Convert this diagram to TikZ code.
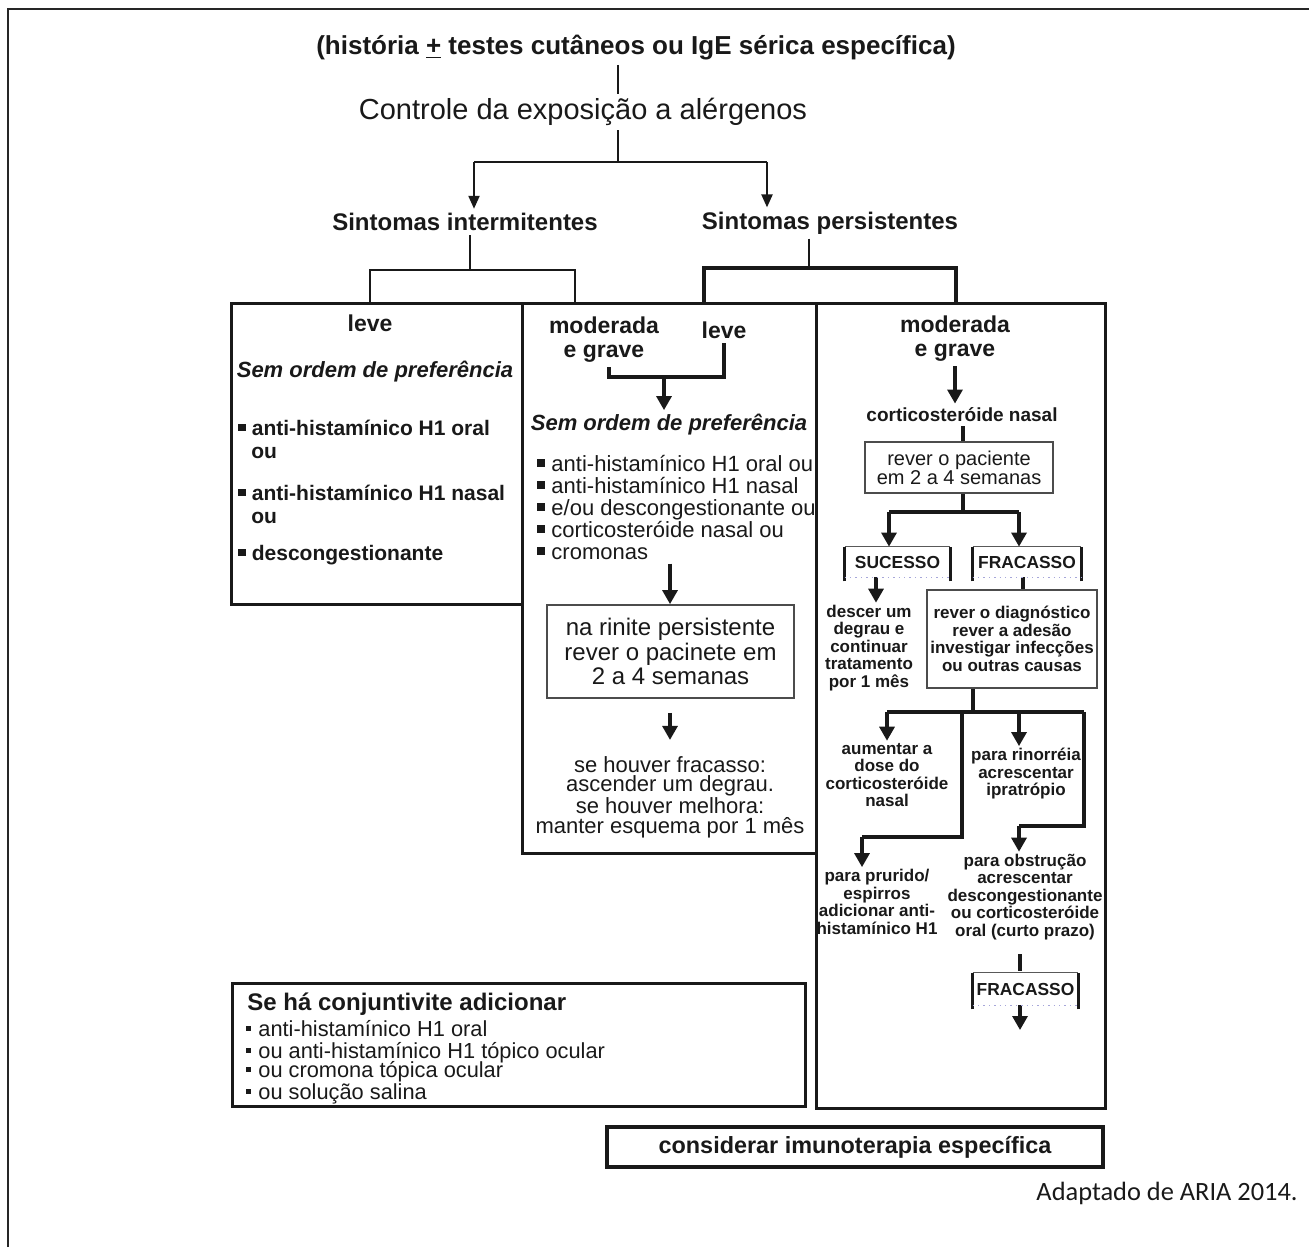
\documentclass[tikz,border=0pt]{standalone}
\usepackage{fontspec}
\setmainfont{Liberation Sans}
\newfontfamily\carlito{Carlito}
\usetikzlibrary{arrows.meta}
\newcommand{\fsz}[2]{\fontsize{#1}{#2}\selectfont}
\newcommand{\sqb}{\rule[0.2em]{0.34em}{0.34em}\hspace{0.3em}}
\newcommand{\dotb}{\rule[0.25em]{0.2em}{0.2em}\hspace{0.35em}}
\begin{document}
\begin{tikzpicture}[x=0.5pt,y=-0.5pt,
  every node/.style={inner sep=2pt, align=center, text=black!90},
  conn/.style={line width=1.1pt, draw=black!90},
  conn2/.style={line width=1.6pt, draw=black!90},
  heavy/.style={line width=1.6pt, draw=black!90},
  arr/.style={conn, -{Triangle[length=6.5pt,width=5.5pt]}},
  arr2/.style={conn2, -{Triangle[length=7pt,width=7.5pt]}},
  bigbox/.style={draw=black!90, line width=1.6pt, anchor=north west, inner sep=0pt},
  thinbox/.style={draw=black!70, line width=0.9pt},
  hd/.style={font=\fsz{11.5}{12}\bfseries},
  small/.style={font=\fsz{8.5}{8.75}\bfseries, inner sep=1pt},
  litem/.style={anchor=base west, inner sep=0pt, font=\fsz{10.5}{12}\bfseries},
  mitem/.style={anchor=base west, inner sep=0pt, font=\fsz{11}{12}},
  citem/.style={anchor=base west, inner sep=0pt, font=\fsz{10.9}{12}},
  brk/.style={minimum height=15pt, inner sep=0pt, font=\fsz{8.7}{10}\bfseries},
]
\useasboundingbox (0,0) rectangle (1309,1247);
\draw[line width=1.4pt, black!85] (8,1247) -- (8,9) -- (1309,9);

% ---------- top ----------
\node[font=\fsz{13}{15}\bfseries] (title) at (636,48) {(história \underline{+} testes cutâneos ou IgE sérica específica)};
\node[font=\fsz{14.5}{17}] (ctrl) at (583,112) {Controle da exposição a alérgenos};
\node[font=\fsz{12}{14}\bfseries] (si) at (465,222) {Sintomas intermitentes};
\node[font=\fsz{12}{14}\bfseries] (sp) at (830,223) {Sintomas persistentes};
\coordinate (j0) at (618,162);
\coordinate (jL) at (474,162);
\coordinate (jR) at (767,162);
\draw[conn] (title.south -| j0) -- (ctrl.north -| j0);
\draw[conn] (ctrl.south -| j0) -- (j0);
\draw[conn] (jL) -- (jR);
\draw[arr] (jL) -- (jL |- si.north);
\draw[arr] (jR) -- (jR |- sp.north);

% ---------- big boxes ----------
\node[bigbox, minimum width=145.5pt, minimum height=150.5pt] (boxL) at (230,302) {};
\node[bigbox, minimum width=147pt, minimum height=275pt] (boxM) at (521,302) {};
\node[bigbox, minimum width=144.5pt, minimum height=402.5pt] (boxR) at (815,302) {};

% brackets
\coordinate (bi) at (470,270);
\coordinate (biL) at (370,270);
\coordinate (biR) at (575,270);
\draw[conn] (si.south -| bi) -- (bi);
\draw[conn] (boxL.north -| biL) -- (biL) -- (biR) -- (boxM.north -| biR);
\coordinate (bp) at (809,268);
\coordinate (bpL) at (704,268);
\coordinate (bpR) at (956,268);
\draw[conn] (sp.south -| bp) -- (bp);
\draw[heavy] (boxM.north -| bpL) -- (bpL) -- (bpR) -- (boxR.north -| bpR);

% ---------- left column ----------
\node[hd] (lv1) at (370,323) {leve};
\node[font=\fsz{11}{13}\bfseries\itshape] (sem1) at (375,372) {Sem ordem de preferência};
\node[litem] (l1) at (238,435) {\sqb anti-histamínico H1 oral};
\node[litem] (l2) at (251,458) {ou};
\node[litem] (l3) at (238,500) {\sqb anti-histamínico H1 nasal};
\node[litem] (l4) at (251,523) {ou};
\node[litem] (l5) at (238,560) {\sqb descongestionante};

% ---------- middle column ----------
\node[hd] (mg1) at (604,340) {moderada\\e grave};
\node[hd] (lv2) at (724,330) {leve};
\coordinate (mA) at (609,377);
\coordinate (mB) at (724,377);
\coordinate (mC) at (664,377);
\draw[conn2] (mg1.south -| mA) -- (mA) -- (mB) -- (lv2.south -| mB);
\node[font=\fsz{11}{13}\bfseries\itshape] (sem2) at (669,425) {Sem ordem de preferência};
\draw[arr2] (mC) -- (mC |- sem2.north);
\node[mitem] (m1) at (537,471) {\sqb anti-histamínico H1 oral ou};
\node[mitem] (m2) at (537,493) {\sqb anti-histamínico H1 nasal};
\node[mitem] (m3) at (537,515) {\sqb e/ou descongestionante ou};
\node[mitem] (m4) at (537,537) {\sqb corticosteróide nasal ou};
\node[mitem] (m5) at (537,559) {\sqb cromonas};
\node[thinbox, minimum width=123.5pt, minimum height=46.5pt, inner sep=0pt, font=\fsz{12}{12.2}] (rin) at (670.5,651.5) {na rinite persistente\\rever o pacinete em\\2 a 4 semanas};
\coordinate (mx) at (670,0);
\draw[arr2, shorten <=2pt] (m5.south -| mx) -- (rin.north -| mx);
\node[font=\fsz{11}{9.6}] (fail) at (670,797) {se houver fracasso:\\ascender um degrau.\\se houver melhora:\\manter esquema por 1 mês};
\draw[arr2, shorten <=7pt, shorten >=6pt] (rin.south -| mx) -- (fail.north -| mx);

% ---------- right column ----------
\node[hd] (mg2) at (955,339) {moderada\\e grave};
\node[font=\fsz{9.5}{11}\bfseries] (cn) at (962,415) {corticosteróide nasal};
\draw[arr2] (mg2.south) -- (mg2.south |- cn.north);
\node[thinbox, minimum width=94pt, minimum height=25.5pt, inner sep=0pt, font=\fsz{10}{9.5}] (rev) at (959,467.5) {rever o paciente\\em 2 a 4 semanas};
\coordinate (rA) at (963,512);
\coordinate (rL) at (889,512);
\coordinate (rRt) at (1019,512);
\draw[conn2] (cn.south -| rA) -- (rev.north -| rA);
\draw[conn2] (rev.south -| rA) -- (rA);
\draw[conn2] (rL) -- (rRt);
\node[brk, minimum width=52.5pt] (suc) at (897.5,562) {SUCESSO};
\node[brk, minimum width=54pt] (fra) at (1027,562) {FRACASSO};
\draw[arr2] (rL) -- (rL |- suc.north);
\draw[arr2] (rRt) -- (rRt |- fra.north);
\node[small] (desc) at (869,648) {descer um\\degrau e\\continuar\\tratamento\\por 1 mês};
\coordinate (sx) at (876,0);
\draw[arr2] (suc.south -| sx) -- (desc.north -| sx);
\node[thinbox, minimum width=85pt, minimum height=49pt, inner sep=0pt, font=\fsz{8.5}{8.75}\bfseries] (diag) at (1012,639) {rever o diagnóstico\\rever a adesão\\investigar infecções\\ou outras causas};
\coordinate (fx) at (1023,0);
\draw[conn2] (fra.south -| fx) -- (diag.north -| fx);

\coordinate (dA) at (973,712);
\coordinate (dL) at (887,712);
\coordinate (dR) at (1084,712);
\coordinate (dM) at (962,712);
\coordinate (dR2) at (1019,712);
\draw[conn2] (diag.south -| dA) -- (dA);
\draw[conn2] (dL) -- (dR);
\node[small] (aum) at (887,775) {aumentar a\\dose do\\corticosteróide\\nasal};
\node[small] (rino) at (1026,774) {para rinorréia\\acrescentar\\ipratrópio};
\draw[arr2] (dL) -- (dL |- aum.north);
\draw[arr2] (dR2) -- (dR2 |- rino.north);
\node[small] (prur) at (877,902) {para prurido/\\espirros\\adicionar anti-\\histamínico H1};
\node[small] (obst) at (1025,897) {para obstrução\\acrescentar\\descongestionante\\ou corticosteróide\\oral (curto prazo)};
\coordinate (pM) at (962,837);
\coordinate (pL) at (862,837);
\draw[conn2] (dM) -- (pM) -- (pL);
\draw[arr2] (pL) -- (pL |- prur.north);
\coordinate (oR) at (1084,826);
\coordinate (oL) at (1019,826);
\draw[conn2] (dR) -- (oR) -- (oL);
\draw[arr2] (oL) -- (oL |- obst.north);
\node[brk, minimum width=52.5pt, minimum height=16pt] (fra2) at (1025.5,989) {FRACASSO};
\coordinate (ox) at (1020,0);
\coordinate (fEnd) at (1020,1030);
\draw[conn2, shorten <=6pt, shorten >=1pt] (obst.south -| ox) -- (fra2.north -| ox);
\draw[arr2] (fra2.south -| ox) -- (fEnd);

% bracket boxes
\foreach \n in {suc,fra,fra2}{
  \draw[black!65, line width=0.8pt] (\n.north west) -- (\n.north east);
  \draw[black!90, line width=1.5pt] ([yshift=-2pt]\n.south west) -- (\n.north west);
  \draw[black!90, line width=1.5pt] ([yshift=-2pt]\n.south east) -- (\n.north east);
  \draw[blue!40!gray!50, dotted, line width=0.7pt] (\n.south west) -- (\n.south east);
}

% ---------- conjunctivitis ----------
\node[bigbox, minimum width=286.5pt, minimum height=61.5pt] (conj) at (231,982) {};
\node[anchor=base west, inner sep=0pt, font=\fsz{12}{14}\bfseries] (cj0) at (247,1010) {Se há conjuntivite adicionar};
\node[citem] (cj1) at (246,1036) {\dotb anti-histamínico H1 oral};
\node[citem] (cj2) at (246,1058) {\dotb ou anti-histamínico H1 tópico ocular};
\node[citem] (cj3) at (246,1077) {\dotb ou cromona tópica ocular};
\node[citem] (cj4) at (246,1099) {\dotb ou solução salina};

% ---------- immunotherapy ----------
\node[draw=black!90, line width=1.6pt, minimum width=248pt, minimum height=20pt, inner sep=0pt, font=\fsz{11.7}{14}\bfseries] (imu) at (855,1147) {considerar imunoterapia específica};

\node[anchor=east, inner sep=0pt, font=\carlito\fsz{13.2}{15}] (src) at (1298,1193) {Adaptado de ARIA 2014.};
\end{tikzpicture}
\end{document}
